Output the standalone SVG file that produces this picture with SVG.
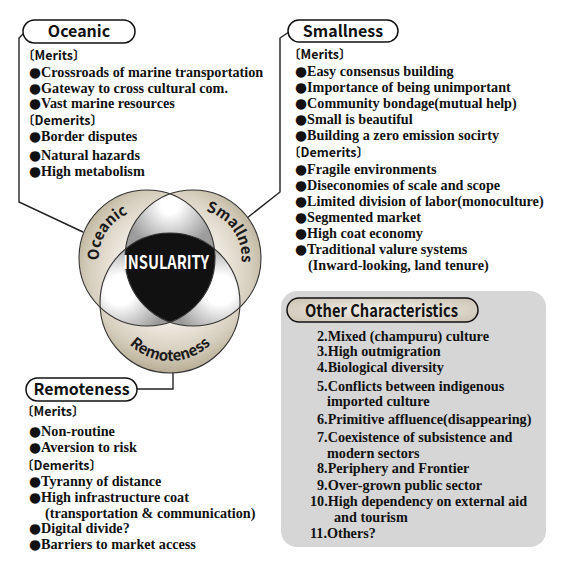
<svg xmlns="http://www.w3.org/2000/svg" width="567" height="567" viewBox="0 0 567 567">
<style>
.s{font-family:"Liberation Serif","Noto Sans CJK JP",serif;font-size:14.2px;font-weight:bold;fill:#111}
.b{font-family:"DejaVu Sans",sans-serif;font-weight:normal;font-size:13.8px}
.h{font-family:"Noto Sans CJK JP","Noto Sans",sans-serif;font-size:12.5px;font-weight:600;fill:#111}
.p{font-family:"Noto Sans CJK JP","Noto Sans",sans-serif;font-size:16px;font-weight:bold;fill:#111;text-anchor:middle}
.arc{font-family:"Noto Sans CJK JP","Noto Sans",sans-serif;font-size:15px;font-weight:bold;fill:#1a1a1a}
.pill{fill:#fff;stroke:#111;stroke-width:1.5}
.line{fill:none;stroke:#222;stroke-width:1.4}
.ring{fill:none;stroke:#333;stroke-width:1.1}
</style>
<defs>
<radialGradient id="beige" gradientUnits="userSpaceOnUse" cx="170" cy="272" r="108">
<stop offset="0.45" stop-color="#f2eee6"/>
<stop offset="0.75" stop-color="#d6cebd"/>
<stop offset="1" stop-color="#ada288"/>
</radialGradient>
<radialGradient id="lensT" gradientUnits="userSpaceOnUse" cx="170" cy="205" r="45">
<stop offset="0.2" stop-color="#ffffff"/>
<stop offset="1" stop-color="#9c9c9c"/>
</radialGradient>
<radialGradient id="lensL" gradientUnits="userSpaceOnUse" cx="120" cy="290" r="50">
<stop offset="0.3" stop-color="#ffffff"/>
<stop offset="1" stop-color="#999"/>
</radialGradient>
<radialGradient id="lensR" gradientUnits="userSpaceOnUse" cx="220" cy="290" r="50">
<stop offset="0.3" stop-color="#ffffff"/>
<stop offset="1" stop-color="#999"/>
</radialGradient>
<radialGradient id="pillG" cx="0.5" cy="0.5" r="0.6">
<stop offset="0" stop-color="#f4f1ea"/>
<stop offset="1" stop-color="#cfc8b8"/>
</radialGradient>
<clipPath id="cA"><circle cx="147" cy="258" r="68"/></clipPath>
<clipPath id="cB"><circle cx="193" cy="258" r="68"/></clipPath>
<path id="arcO" d="M 110.2 288.9 A 48 48 0 0 1 158.6 211.4"/>
<path id="arcS" d="M 180.6 211.4 A 48 48 0 0 1 232.3 286.0"/>
<path id="arcR" d="M 115.5 322.8 A 58 58 0 0 0 224.5 322.8"/>
</defs>
<rect width="567" height="567" fill="#fff"/>

<g id="connectors">
<polyline class="line" points="24,33 19,38 19,202 83,232"/>
<polyline class="line" points="289,32 280,38 280,192 247,218"/>
<polyline class="line" points="137,389 173,389 173,372"/>
</g>

<g id="venn">
<circle cx="147" cy="258" r="68" fill="url(#beige)"/>
<circle cx="193" cy="258" r="68" fill="url(#beige)"/>
<circle cx="170" cy="303" r="70" fill="url(#beige)"/>
<g clip-path="url(#cA)"><circle cx="193" cy="258" r="68" fill="url(#lensT)"/></g>
<g clip-path="url(#cA)"><circle cx="170" cy="303" r="70" fill="url(#lensL)"/></g>
<g clip-path="url(#cB)"><circle cx="170" cy="303" r="70" fill="url(#lensR)"/></g>
<g clip-path="url(#cA)"><g clip-path="url(#cB)"><circle cx="170" cy="303" r="70" fill="#111"/></g></g>
<circle class="ring" cx="147" cy="258" r="68"/>
<circle class="ring" cx="193" cy="258" r="68"/>
<circle class="ring" cx="170" cy="303" r="70"/>
<text class="arc"><textPath href="#arcO" startOffset="50%" text-anchor="middle">Oceanic</textPath></text>
<text class="arc"><textPath href="#arcS" startOffset="50%" text-anchor="middle">Smallnes</textPath></text>
<text class="arc"><textPath href="#arcR" startOffset="50%" text-anchor="middle">Remoteness</textPath></text>
<text x="166" y="269" font-family="Noto Sans CJK JP, Noto Sans, sans-serif" font-size="18" font-weight="bold" fill="#fff" text-anchor="middle" textLength="86" lengthAdjust="spacingAndGlyphs">INSULARITY</text>
</g>

<g id="oceanic">
<rect class="pill" x="23" y="20" width="112" height="23" rx="11.5"/>
<text class="p" x="79" y="37">Oceanic</text>
<text class="h" x="22" y="60">〔Merits〕</text>
<text class="s" x="29" y="77"><tspan class="b">●</tspan>Crossroads of marine transportation</text>
<text class="s" x="29" y="93"><tspan class="b">●</tspan>Gateway to cross cultural com.</text>
<text class="s" x="29" y="108"><tspan class="b">●</tspan>Vast marine resources</text>
<text class="h" x="22" y="125">〔Demerits〕</text>
<text class="s" x="29" y="141"><tspan class="b">●</tspan>Border disputes</text>
<text class="s" x="29" y="160"><tspan class="b">●</tspan>Natural hazards</text>
<text class="s" x="29" y="176"><tspan class="b">●</tspan>High metabolism</text>
</g>

<g id="smallness">
<rect class="pill" x="288" y="20" width="110" height="22" rx="11"/>
<text class="p" x="343" y="37">Smallness</text>
<text class="h" x="288" y="59">〔Merits〕</text>
<text class="s" x="295" y="76"><tspan class="b">●</tspan>Easy consensus building</text>
<text class="s" x="295" y="92"><tspan class="b">●</tspan>Importance of being unimportant</text>
<text class="s" x="295" y="108"><tspan class="b">●</tspan>Community bondage(mutual help)</text>
<text class="s" x="295" y="124"><tspan class="b">●</tspan>Small is beautiful</text>
<text class="s" x="295" y="140"><tspan class="b">●</tspan>Building a zero emission socirty</text>
<text class="h" x="288" y="157">〔Demerits〕</text>
<text class="s" x="295" y="174"><tspan class="b">●</tspan>Fragile environments</text>
<text class="s" x="295" y="190"><tspan class="b">●</tspan>Diseconomies of scale and scope</text>
<text class="s" x="295" y="206"><tspan class="b">●</tspan>Limited division of labor(monoculture)</text>
<text class="s" x="295" y="222"><tspan class="b">●</tspan>Segmented market</text>
<text class="s" x="295" y="238"><tspan class="b">●</tspan>High coat economy</text>
<text class="s" x="295" y="254"><tspan class="b">●</tspan>Traditional valure systems</text>
<text class="s" x="308" y="270">(Inward-looking, land tenure)</text>
</g>

<g id="remoteness">
<rect class="pill" x="26" y="378" width="111" height="23" rx="11.5"/>
<text class="p" x="81.5" y="395">Remoteness</text>
<text class="h" x="21" y="416">〔Merits〕</text>
<text class="s" x="29" y="436"><tspan class="b">●</tspan>Non-routine</text>
<text class="s" x="29" y="452"><tspan class="b">●</tspan>Aversion to risk</text>
<text class="h" x="21" y="470">〔Demerits〕</text>
<text class="s" x="29" y="486"><tspan class="b">●</tspan>Tyranny of distance</text>
<text class="s" x="29" y="502"><tspan class="b">●</tspan>High infrastructure coat</text>
<text class="s" x="45" y="518">(transportation &amp; communication)</text>
<text class="s" x="29" y="533"><tspan class="b">●</tspan>Digital divide?</text>
<text class="s" x="29" y="549"><tspan class="b">●</tspan>Barriers to market access</text>
</g>

<g id="other">
<rect x="281" y="291" width="265" height="256" rx="16" fill="#d6d6d6"/>
<rect x="287" y="298" width="191" height="24" rx="12" fill="url(#pillG)" stroke="#111" stroke-width="1.5"/>
<text x="305" y="317" font-family="Noto Sans CJK JP, Noto Sans, sans-serif" font-size="17" font-weight="bold" fill="#111" textLength="153" lengthAdjust="spacingAndGlyphs">Other Characteristics</text>
<text class="s" x="317" y="341">2.Mixed (champuru) culture</text>
<text class="s" x="317" y="356">3.High outmigration</text>
<text class="s" x="317" y="372">4.Biological diversity</text>
<text class="s" x="317" y="391">5.Conflicts between indigenous</text>
<text class="s" x="327" y="406">imported culture</text>
<text class="s" x="317" y="424">6.Primitive affluence(disappearing)</text>
<text class="s" x="317" y="442">7.Coexistence of subsistence and</text>
<text class="s" x="327" y="458">modern sectors</text>
<text class="s" x="317" y="473">8.Periphery and Frontier</text>
<text class="s" x="317" y="490">9.Over-grown public sector</text>
<text class="s" x="310" y="506">10.High dependency on external aid</text>
<text class="s" x="334" y="522">and tourism</text>
<text class="s" x="310" y="538">11.Others?</text>
</g>
</svg>
